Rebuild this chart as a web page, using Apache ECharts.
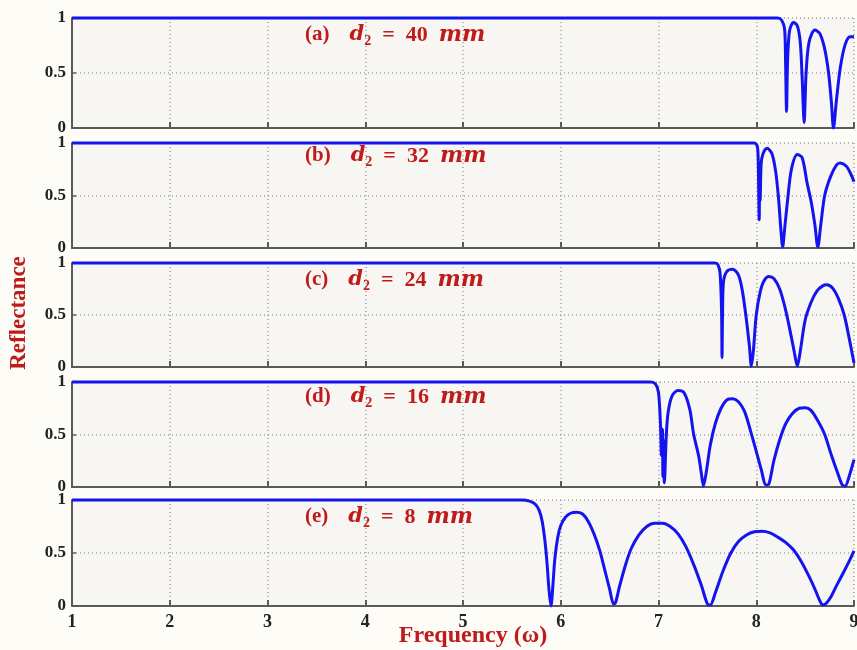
<!DOCTYPE html>
<html>
<head>
<meta charset="utf-8">
<script src="https://cdn.jsdelivr.net/npm/echarts@6/dist/echarts.min.js"></script>
<style>
html,body{margin:0;padding:0;background:#fdfcf6}
#main{width:857px;height:650px}
</style>
</head>
<body>
<div id="main"></div>
<script>
var panelTags = ['(a)', '(b)', '(c)', '(d)', '(e)'];
var thickness = ['40', '32', '24', '16', '8'];
var xMin = 1, xMax = 9, xStep = 1;
var yMin = 0, yMax = 1, yStep = 0.5;

// reflectance vs frequency
var curveA = [[1,1],[8.22,1],[8.26,0.98],[8.29,0.9],[8.3,0.6],[8.31,0.15],[8.32,0.6],[8.34,0.88],[8.38,0.96],[8.42,0.93],
	[8.45,0.78],[8.47,0.45],[8.49,0.05],[8.51,0.5],[8.54,0.78],[8.6,0.89],[8.65,0.86],[8.7,0.72],[8.74,0.5],[8.77,0.22],
	[8.79,0.0],[8.82,0.25],[8.86,0.55],[8.91,0.76],[8.96,0.83],[9.0,0.83]];
var curveB = [[1,1],[7.98,1],[8.01,0.97],[8.02,0.85],[8.025,0.55],[8.03,0.27],[8.035,0.7],[8.04,0.45],[8.05,0.8],[8.07,0.9],
	[8.11,0.95],[8.16,0.9],[8.2,0.72],[8.23,0.45],[8.25,0.2],[8.27,0.01],[8.29,0.18],[8.32,0.45],[8.36,0.75],[8.42,0.89],
	[8.47,0.86],[8.52,0.62],[8.56,0.45],[8.6,0.22],[8.63,0.01],[8.66,0.22],[8.7,0.5],[8.76,0.68],[8.82,0.79],[8.86,0.81],
	[8.92,0.78],[8.97,0.7],[9.0,0.63]];
var curveC = [[1,1],[7.58,1],[7.61,0.98],[7.63,0.9],[7.645,0.55],[7.65,0.09],[7.655,0.5],[7.665,0.82],[7.7,0.92],[7.76,0.94],
	[7.82,0.88],[7.86,0.72],[7.9,0.45],[7.93,0.2],[7.95,0.01],[7.97,0.15],[8.0,0.5],[8.04,0.72],[8.08,0.83],[8.13,0.87],
	[8.18,0.85],[8.24,0.75],[8.3,0.55],[8.35,0.33],[8.39,0.14],[8.42,0.01],[8.45,0.15],[8.5,0.45],[8.56,0.62],[8.62,0.73],
	[8.68,0.78],[8.72,0.79],[8.78,0.76],[8.84,0.66],[8.9,0.5],[8.95,0.28],[9.0,0.04]];
var curveD = [[1,1],[6.92,1],[6.97,0.98],[7.0,0.9],[7.02,0.6],[7.03,0.3],[7.04,0.55],[7.045,0.1],[7.05,0.45],[7.06,0.04],
	[7.08,0.5],[7.1,0.72],[7.14,0.87],[7.2,0.92],[7.26,0.9],[7.32,0.74],[7.36,0.5],[7.41,0.3],[7.44,0.12],[7.46,0.01],
	[7.49,0.15],[7.53,0.4],[7.58,0.6],[7.64,0.75],[7.7,0.83],[7.76,0.84],[7.82,0.81],[7.88,0.72],[7.94,0.54],[8.0,0.34],
	[8.05,0.17],[8.1,0.02],[8.13,0.03],[8.18,0.25],[8.24,0.45],[8.3,0.6],[8.37,0.7],[8.44,0.75],[8.5,0.755],[8.56,0.73],
	[8.63,0.63],[8.7,0.5],[8.77,0.3],[8.83,0.14],[8.88,0.02],[8.91,0.01],[8.95,0.1],[9.0,0.26]];
var curveE = [[1,1],[5.6,1],[5.68,0.99],[5.74,0.96],[5.78,0.9],[5.81,0.8],[5.84,0.6],[5.86,0.4],[5.88,0.15],[5.9,0],
	[5.92,0.2],[5.94,0.45],[5.97,0.65],[6.0,0.76],[6.05,0.84],[6.1,0.875],[6.16,0.885],[6.22,0.87],[6.28,0.8],[6.34,0.68],
	[6.4,0.52],[6.45,0.34],[6.5,0.16],[6.54,0.02],[6.56,0.03],[6.6,0.18],[6.66,0.38],[6.72,0.54],[6.8,0.67],[6.88,0.75],
	[6.96,0.78],[7.04,0.78],[7.12,0.75],[7.2,0.68],[7.28,0.56],[7.36,0.39],[7.44,0.19],[7.5,0.02],[7.53,0.01],[7.58,0.12],
	[7.66,0.33],[7.74,0.5],[7.82,0.61],[7.9,0.67],[7.98,0.7],[8.06,0.705],[8.14,0.69],[8.22,0.65],[8.3,0.6],[8.38,0.53],
	[8.46,0.42],[8.54,0.28],[8.6,0.16],[8.65,0.05],[8.68,0.01],[8.71,0.02],[8.76,0.08],[8.82,0.19],[8.9,0.33],[8.96,0.44],[9.0,0.52]];
var curves = [curveA, curveB, curveC, curveD, curveE];

var gridTops = [18, 143, 263, 382, 500];
var gridHeights = [110, 105, 104, 105, 106];
var tagY = [38, 159, 283, 400, 520];
var red = '#bf1b1b';
var serif = '"Liberation Serif", "DejaVu Serif", serif';
var mathSerif = '"DejaVu Serif", serif';

function buildOption() {
	var grids = [], xAxes = [], yAxes = [], series = [], graphics = [];
	for (var i = 0; i < curves.length; i++) {
		var last = (i == curves.length - 1);
		grids.push({
			left: 72, right: 3, top: gridTops[i], height: gridHeights[i],
			outerBoundsMode: 'none',
			show: true, backgroundColor: '#f7f6f3', borderWidth: 0
		});
		xAxes.push({
			gridIndex: i, type: 'value', min: xMin, max: xMax, interval: xStep,
			axisLine: {show: true, lineStyle: {color: '#5a5a5a', width: 2}},
			axisTick: {show: true, inside: true, length: 6, lineStyle: {color: '#5a5a5a', width: 2}},
			splitLine: {show: true, lineStyle: {color: '#a0a0a0', type: [1, 3], width: 1.5}},
			axisLabel: {show: last, color: '#222', fontFamily: serif, fontWeight: 'bold', fontSize: 18, margin: 7}
		});
		yAxes.push({
			gridIndex: i, type: 'value', min: yMin, max: yMax, interval: yStep,
			axisLine: {show: true, lineStyle: {color: '#5a5a5a', width: 2}},
			axisTick: {show: true, inside: true, length: 4, lineStyle: {color: '#5a5a5a', width: 1.5}},
			splitLine: {show: true, lineStyle: {color: '#a0a0a0', type: [1, 3], width: 1.5}},
			axisLabel: {color: '#222', fontFamily: serif, fontWeight: 'bold', fontSize: 17, margin: 6}
		});
		series.push({
			type: 'line', xAxisIndex: i, yAxisIndex: i, data: curves[i],
			showSymbol: false, clip: false, smooth: 0.3,
			lineStyle: {color: '#1414ee', width: 3}
		});
		graphics.push({
			type: 'text', left: 305, top: tagY[i] - 14, z: 10,
			style: {
				text: '{p|' + panelTags[i] + '}      {d|d}{s|2}{e|  =  ' + thickness[i] + '  }{m|mm}',
				rich: {
					p: {fill: red, font: 'bold 21px ' + serif},
					d: {fill: red, font: 'italic bold 21px ' + mathSerif},
					s: {fill: red, font: 'bold 14px ' + serif, padding: [12, 0, 0, 0]},
					e: {fill: red, font: 'bold 22px ' + serif},
					m: {fill: red, font: 'italic bold 22px ' + mathSerif}
				}
			}
		});
	}
	graphics.push({
		type: 'text', x: 19, y: 313, rotation: Math.PI / 2, z: 10,
		style: {text: 'Reflectance', fill: red, font: 'bold 23px ' + serif, textAlign: 'center', textVerticalAlign: 'middle'}
	});
	graphics.push({
		type: 'text', x: 473, y: 636,
		style: {text: 'Frequency (ω)', fill: red, font: 'bold 24px ' + serif, textAlign: 'center', textVerticalAlign: 'middle'}
	});
	return {
		backgroundColor: '#fdfcf6',
		animation: false,
		grid: grids, xAxis: xAxes, yAxis: yAxes, series: series, graphic: graphics
	};
}

var myChart = echarts.init(document.getElementById('main'));
myChart.setOption(buildOption());
</script>
</body>
</html>
